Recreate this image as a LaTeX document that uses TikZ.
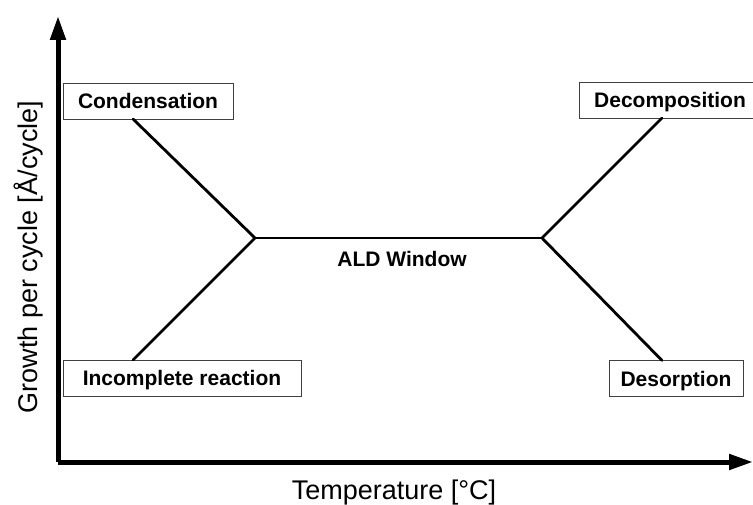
\documentclass[tikz,border=0pt]{standalone}
\usepackage{fontspec}
\setmainfont{Liberation Sans}
\usetikzlibrary{arrows.meta}
\begin{document}
\begin{tikzpicture}[x=1pt,y=-1pt,
  axis/.style={line width=5pt,-{Triangle[width=15pt,length=24pt]}},
  branch/.style={line width=2.8pt,line cap=round},
  labelbox/.style={draw=black!75,line width=0.9pt,fill=white,inner sep=0pt,
    minimum height=36pt,text height=15pt,text depth=0pt,
    font=\fontsize{21}{24}\selectfont\bfseries},
  axislabel/.style={font=\fontsize{27}{30}\selectfont}]
\useasboundingbox (0,0) rectangle (753,505);
\fill[white] (0,0) rectangle (753,505);
% axes
\coordinate (origin) at (58,462);
\coordinate (ytip) at (58,16);
\coordinate (xtip) at (753,462);
\draw[axis] (origin) -- (ytip);
\draw[axis] (origin) -- (xtip);
% junctions
\coordinate (jl) at (255,238);
\coordinate (jr) at (542,238);
% boxes
\node[labelbox,minimum width=170pt] (cond) at (148,101) {Condensation};
\begin{scope}
\clip (0,0) rectangle (753,505);
\node[labelbox,minimum width=182pt] (decomp) at (670,100) {Decomposition};
\end{scope}
\node[labelbox,minimum width=238pt] (incomp) at (182,378) {Incomplete reaction};
\node[labelbox,minimum width=134pt] (desorp) at (676,378.5) {Desorption};
% branches
\coordinate (c1) at (133,119);
\coordinate (i1) at (133,360);
\coordinate (d1) at (662,118);
\coordinate (s1) at (662,360.5);
\draw[branch] (c1) -- (jl) -- (i1);
\draw[branch] (jl) -- (jr);
\draw[branch] (d1) -- (jr) -- (s1);
\node[font=\fontsize{21}{24}\selectfont\bfseries] (ald) at (402,259) {ALD Window};
% axis labels
\node[axislabel,anchor=base] (xlab) at (394,499) {Temperature [°C]};
\node[axislabel,anchor=base,rotate=90] (ylab) at (37,257) {Growth per cycle [Å/cycle]};
\end{tikzpicture}
\end{document}
